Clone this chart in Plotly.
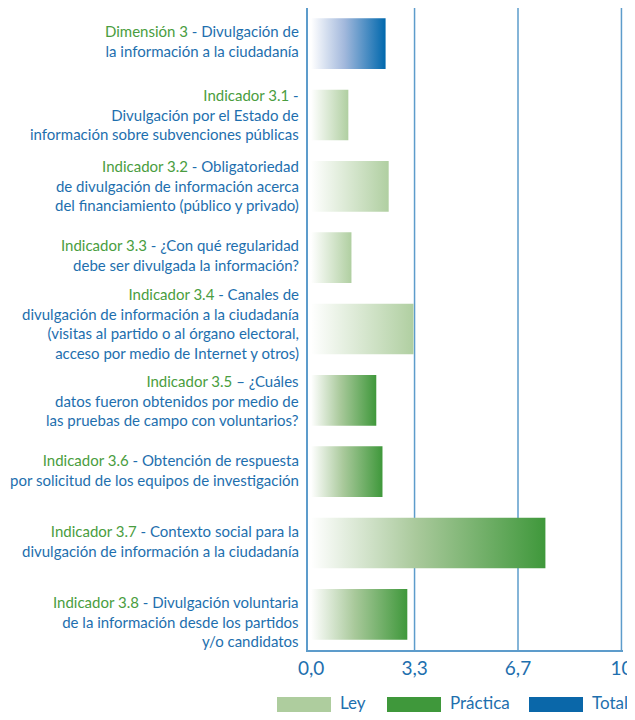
import plotly.graph_objects as go

# ---- data ----
HEADS = ["Dimensión 3", "Indicador 3.1", "Indicador 3.2", "Indicador 3.3", "Indicador 3.4",
         "Indicador 3.5", "Indicador 3.6", "Indicador 3.7", "Indicador 3.8"]
BODIES = [
    " - Divulgación de<br>la información a la ciudadanía",
    " -<br>Divulgación por el Estado de<br>información sobre subvenciones públicas",
    " - Obligatoriedad<br>de divulgación de información acerca<br>del financiamiento (público y privado)",
    " - ¿Con qué regularidad<br>debe ser divulgada la información?",
    " - Canales de<br>divulgación de información a la ciudadanía<br>(visitas al partido o al órgano electoral,<br>acceso por medio de Internet y otros)",
    " – ¿Cuáles<br>datos fueron obtenidos por medio de<br>las pruebas de campo con voluntarios?",
    " - Obtención de respuesta<br>por solicitud de los equipos de investigación",
    " - Contexto social para la<br>divulgación de información a la ciudadanía",
    " - Divulgación voluntaria<br>de la información desde los partidos<br>y/o candidatos",
]
VALUES = [2.4, 1.2, 2.5, 1.3, 3.3, 2.1, 2.3, 7.55, 3.1]
SERIES = ["Total", "Ley", "Ley", "Ley", "Ley", "Práctica", "Práctica", "Práctica", "Práctica"]
LEGEND_NAMES = ["Ley", "Práctica", "Total"]
TICK_VALS = [0, 10 / 3, 20 / 3, 10]
TICK_TEXT = ["0,0", "3,3", "6,7", "10"]

# ---- styles ----
COLORS = {"Ley": "#aecd9e", "Práctica": "#3f983b", "Total": "#0a67a9"}
SCALES = {
    "Ley": [[0, "#ffffff"], [1, "#b0cfa1"]],
    "Práctica": [[0, "#ffffff"], [0.45, "#a9c99b"], [1, "#3f983b"]],
    "Total": [[0, "#ffffff"], [0.45, "#a2b8dc"], [1, "#0068ad"]],
}
GREEN_TXT = "#4a9d40"
BLUE_TXT = "#1e6fae"
GRID = "#5d9ccb"
FONT = "Lato"
HALF = 0.355
LABEL_SHIFT = [3, 1, 1, 3, 6, 0, 2, 2, -7]

W, H = 627, 704
ML, MR, MT, MB = 300, 12, 0, 62
PW, PH = W - ML - MR, H - MT - MB


def px_x(p):
    return (p - ML) / PW


def px_y(p):
    return (MT + PH - p) / PH


fig = go.Figure()
for i, (v, s) in enumerate(zip(VALUES, SERIES)):
    fig.add_trace(go.Scatter(
        x=[0, v, v, 0, 0],
        y=[i - HALF, i - HALF, i + HALF, i + HALF, i - HALF],
        mode="lines", line=dict(width=0), fill="toself",
        fillgradient=dict(type="horizontal", colorscale=SCALES[s]),
        hoverinfo="skip", showlegend=False,
    ))

for t in TICK_VALS[1:]:
    fig.add_shape(type="line", xref="x", yref="paper", x0=t, x1=t, y0=0, y1=1,
                  line=dict(color=GRID, width=1.5), layer="below")

for i, (h, b) in enumerate(zip(HEADS, BODIES)):
    fig.add_annotation(
        xref="paper", yref="y", x=px_x(292), y=i, xanchor="right", yanchor="middle",
        align="right", showarrow=False, yshift=LABEL_SHIFT[i], borderpad=0,
        text=f'<span style="color:{GREEN_TXT}">{h}</span>{b}',
        font=dict(family=FONT, size=15, color=BLUE_TXT),
    )

# legend
legend_x = [269, 379, 521]
for name, lx in zip(LEGEND_NAMES, legend_x):
    fig.add_shape(type="rect", xref="paper", yref="paper", x0=px_x(lx), x1=px_x(lx + 54),
                  y0=px_y(704), y1=px_y(689),
                  fillcolor=COLORS[name], line=dict(width=0))
    fig.add_annotation(xref="paper", yref="paper", x=px_x(lx + 62),
                       y=px_y(694), xanchor="left", yanchor="middle",
                       showarrow=False, text=name, borderpad=0,
                       font=dict(family=FONT, size=17, color=BLUE_TXT))

fig.update_xaxes(range=[-0.1, 10.05], tickvals=TICK_VALS, ticktext=TICK_TEXT,
                 showgrid=False, zeroline=False, showline=True, linecolor=GRID,
                 linewidth=1.5, ticks="", ticklabelstandoff=0,
                 tickfont=dict(family=FONT, size=19, color=BLUE_TXT), fixedrange=True)
fig.update_yaxes(range=[8.5, -0.5], showticklabels=False, showgrid=False,
                 zeroline=False, showline=True, linecolor=GRID, linewidth=1.5,
                 fixedrange=True)
fig.update_layout(width=W, height=H, margin=dict(l=ML, r=MR, t=MT, b=MB),
                  plot_bgcolor="white", paper_bgcolor="white", showlegend=False)
fig.write_html("out.html")
